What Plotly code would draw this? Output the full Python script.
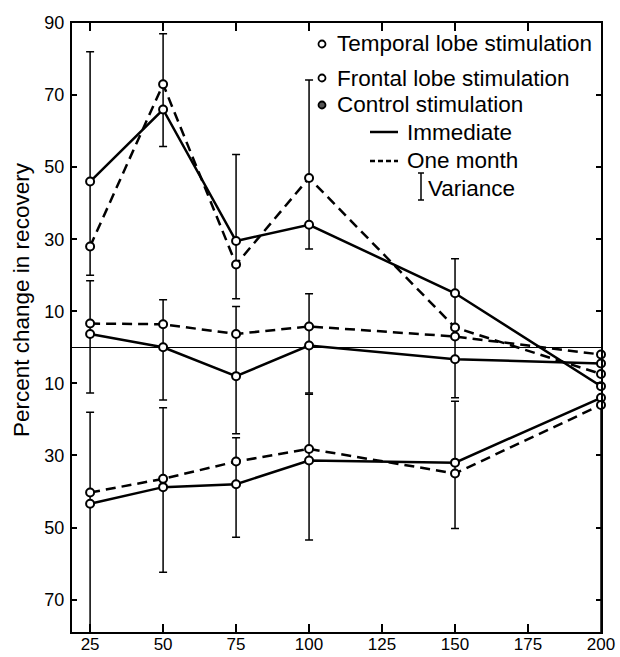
import plotly.graph_objects as go

# ---- data ----
doses = [25, 50, 75, 100, 150, 200]
temporal_immediate = [46, 66, 29.5, 34, 15, -10.8]
temporal_one_month = [28, 73, 23, 47, 5.5, -7.4]
frontal_immediate = [3.7, 0, -8, 0.5, -3.3, -4.5]
frontal_one_month = [6.6, 6.4, 3.7, 5.8, 3, -2]
control_immediate = [-43.4, -38.8, -38, -31.4, -32, -14]
control_one_month = [-40.3, -36.5, -31.7, -28.2, -35, -16]

variance_x = [25, 50, 75, 100, 150,
              25, 50, 75, 100, 150,
              25, 50, 75, 100, 150, 200]
variance_low = [20, 55.7, 13.5, 27.3, 5,
                -12.7, -14.6, -24, -12.7, -14,
                -86, -62.4, -52.7, -53.5, -50.3, -86]
variance_high = [82, 87, 53.5, 74.2, 24.6,
                 18.5, 13.2, 11.3, 14.9, 5,
                 -18, -16.8, -25.1, -13, -15, -16]

y_tickvals = [90, 70, 50, 30, 10, -10, -30, -50, -70]
y_ticktext = ["90", "70", "50", "30", "10", "10", "30", "50", "70"]
x_tickvals = [25, 50, 75, 100, 125, 150, 175, 200]

FONT = "Liberation Sans"
fig = go.Figure()

# variance bars
fig.add_trace(go.Scatter(
    x=variance_x, y=variance_low, mode="markers",
    marker=dict(size=1, opacity=0, color="black"),
    error_y=dict(type="data", symmetric=False,
                 array=[h - l for h, l in zip(variance_high, variance_low)],
                 arrayminus=[0] * len(variance_low),
                 width=4, thickness=1.5, color="black"),
    showlegend=False, hoverinfo="skip", cliponaxis=True))

series = [
    (temporal_immediate, "solid"), (temporal_one_month, "10px,6px"),
    (frontal_immediate, "solid"), (frontal_one_month, "10px,6px"),
    (control_immediate, "solid"), (control_one_month, "10px,6px"),
]
for vals, dash in series:
    fig.add_trace(go.Scatter(
        x=doses, y=vals, mode="lines+markers",
        line=dict(color="black", width=2.5, dash=dash),
        marker=dict(symbol="circle", size=8, color="white",
                    line=dict(color="black", width=2)),
        showlegend=False, cliponaxis=False))

# ---- layout geometry (page pixels) ----
L, R, T, B = 72, 601, 23, 632
W, H = 620, 657


def px(x):
    return (x - L) / (R - L)


def py(y):
    return (B - y) / (B - T)


TXT = dict(family=FONT, size=22.5, color="black")
shapes = []
annotations = []
legend_rows = [
    ("Temporal lobe stimulation", 44, "circle"),
    ("Frontal lobe stimulation", 78, "circle"),
    ("Control stimulation", 105, "dot"),
]
for text, yy, kind in legend_rows:
    shapes.append(dict(type="circle", xref="paper", yref="paper",
                       xsizemode="pixel", ysizemode="pixel",
                       xanchor=px(322), yanchor=py(yy),
                       x0=-3.5, x1=3.5, y0=-3.5, y1=3.5,
                       line=dict(color="black", width=1.8),
                       fillcolor="white" if kind == "circle" else "#555"))
    annotations.append(dict(text=text, xref="paper", yref="paper",
                            x=px(335), y=py(yy), xanchor="left", yanchor="middle",
                            showarrow=False, font=TXT))

# immediate / one month samples
shapes.append(dict(type="line", xref="paper", yref="paper",
                   x0=px(370), x1=px(398), y0=py(132), y1=py(132),
                   line=dict(color="black", width=2.5)))
shapes.append(dict(type="line", xref="paper", yref="paper",
                   x0=px(370), x1=px(398), y0=py(161), y1=py(161),
                   line=dict(color="black", width=2.5, dash="5px,3px")))
annotations.append(dict(text="Immediate", xref="paper", yref="paper",
                        x=px(405), y=py(132), xanchor="left", yanchor="middle",
                        showarrow=False, font=TXT))
annotations.append(dict(text="One month", xref="paper", yref="paper",
                        x=px(405), y=py(161), xanchor="left", yanchor="middle",
                        showarrow=False, font=TXT))
# variance sample
shapes.append(dict(type="line", xref="paper", yref="paper",
                   x0=px(421), x1=px(421), y0=py(173), y1=py(200),
                   line=dict(color="black", width=1.5)))
for yy in (173, 200):
    shapes.append(dict(type="line", xref="paper", yref="paper",
                       x0=px(418), x1=px(424), y0=py(yy), y1=py(yy),
                       line=dict(color="black", width=1.5)))
annotations.append(dict(text="Variance", xref="paper", yref="paper",
                        x=px(426), y=py(188), xanchor="left", yanchor="middle",
                        showarrow=False, font=TXT))

# y-axis title (placed as in the reference, off-centre)
annotations.append(dict(text="Percent change in recovery", xref="paper", yref="paper",
                        x=px(21), y=py(300), xanchor="center", yanchor="middle",
                        textangle=-90, showarrow=False,
                        font=dict(family=FONT, size=22.5, color="black")))

fig.update_layout(
    width=W, height=H,
    margin=dict(l=L, r=W - R, t=T, b=H - B),
    paper_bgcolor="white", plot_bgcolor="white",
    font=dict(family=FONT, color="black"),
    showlegend=False,
    shapes=shapes, annotations=annotations,
    xaxis=dict(range=[18.8, 200], tickvals=x_tickvals,
               ticktext=[str(v) for v in x_tickvals],
               ticks="inside", ticklen=8, tickwidth=1.5, tickcolor="black",
               showline=True, linecolor="black", linewidth=2, mirror="ticks",
               showgrid=False, zeroline=False, automargin=False,
               ticklabelstandoff=-4,
               tickfont=dict(family=FONT, size=17, color="black")),
    yaxis=dict(range=[-79, 90], tickvals=y_tickvals, ticktext=y_ticktext,
               ticks="inside", ticklen=5, tickwidth=1.5, tickcolor="black",
               showline=True, linecolor="black", linewidth=2, mirror="ticks",
               showgrid=False, zeroline=True, zerolinecolor="black", zerolinewidth=1,
               ticklabelstandoff=2, automargin=False,
               tickfont=dict(family=FONT, size=18, color="black")),
)

# remove the browser's default 8px body margin so the figure fills the window
fig.write_html("out.html",
               config={"displayModeBar": False},
               post_script="document.body.style.margin='0px';document.body.style.overflow='hidden';")
